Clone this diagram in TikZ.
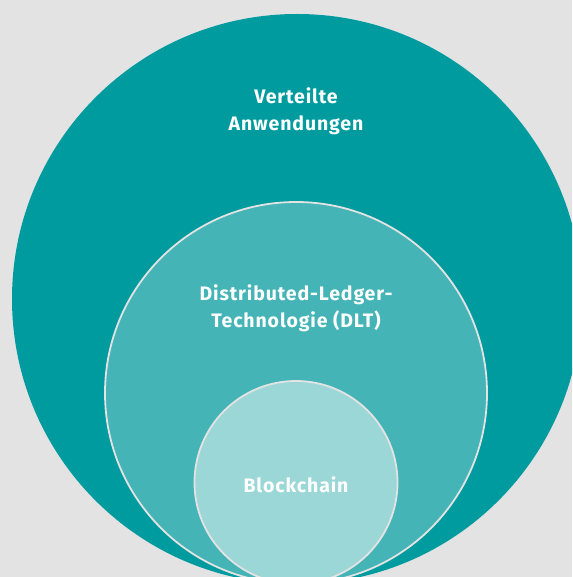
\documentclass[tikz,border=0pt]{standalone}
\usepackage{fontspec}
\setmainfont{Fira Sans}
\newfontfamily\labelfont[LetterSpace=4.5]{Fira Sans}
\usetikzlibrary{positioning}

\definecolor{bgray}{HTML}{E3E3E3}
\definecolor{tealdark}{HTML}{009B9E}
\definecolor{tealmid}{HTML}{45B4B7}
\definecolor{teallight}{HTML}{9CD7D8}

\begin{document}
\begin{tikzpicture}[x=1pt,y=-1pt,
    ring/.style={draw=bgray, line width=1.8pt},
    label text/.style={text=white, font=\labelfont\fontsize{19.5}{27}\selectfont\bfseries, align=center, inner sep=0pt}
]

%%%

    \useasboundingbox (0,0) rectangle (572,577);
    \fill[bgray] (0,0) rectangle (572,577);
    \clip (0,0) rectangle (572,577);

    \fill[tealdark] (297,299) circle (285);
    \filldraw[ring, fill=tealmid] (296,393) circle (191);
    \filldraw[ring, fill=teallight] (296,482.5) circle (101.5);

    \node[label text] (apps) at (296,111) {Verteilte\\Anwendungen};
    \node[label text] (dlt) at (296,308.5) {Distributed-Ledger-\\Technologie (DLT)};
    \node[label text] (chain) at (296,485) {Blockchain};

\end{tikzpicture}
\end{document}
